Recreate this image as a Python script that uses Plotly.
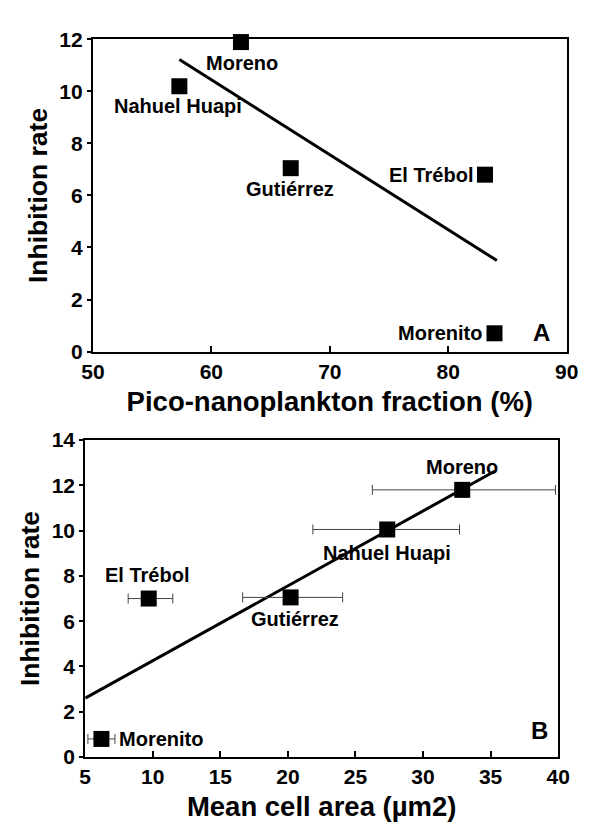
import plotly.graph_objects as go

# Panel A data
lakes_a = ["Moreno", "Nahuel Huapi", "Gutiérrez", "El Trébol", "Morenito"]
pico_frac = [62.5, 57.3, 66.7, 83.1, 83.9]
inhib_a = [11.9, 10.2, 7.05, 6.8, 0.7]
fit_a_x = [57.3, 84.1]
fit_a_y = [11.23, 3.5]
label_a_x = [62.6, 57.2, 66.6, 78.5, 79.3]
label_a_y = [11.1, 9.45, 6.25, 6.8, 0.7]

# Panel B data
lakes_b = ["Moreno", "Nahuel Huapi", "Gutiérrez", "El Trébol", "Morenito"]
cell_area = [32.9, 27.35, 20.2, 9.7, 6.2]
inhib_b = [11.8, 10.05, 7.05, 7.0, 0.8]
err_plus = [6.9, 5.35, 3.85, 1.78, 1.0]
err_minus = [6.65, 5.5, 3.55, 1.52, 1.0]
fit_b_x = [5, 35.3]
fit_b_y = [2.6, 12.62]
label_b_x = [32.9, 27.3, 20.5, 9.6, 10.6]
label_b_y = [12.8, 9.0, 6.1, 8.05, 0.8]

FONT = "Liberation Sans, Arial, sans-serif"
LBL = 20
fig = go.Figure()

# Panel A
fig.add_trace(go.Scatter(x=fit_a_x, y=fit_a_y, mode="lines",
                         line=dict(color="black", width=3),
                         xaxis="x", yaxis="y", showlegend=False))
fig.add_trace(go.Scatter(x=pico_frac, y=inhib_a, mode="markers",
                         marker=dict(symbol="square", size=16, color="black"),
                         cliponaxis=False, xaxis="x", yaxis="y", showlegend=False))

# Panel B
fig.add_trace(go.Scatter(x=fit_b_x, y=fit_b_y, mode="lines",
                         line=dict(color="black", width=3),
                         xaxis="x2", yaxis="y2", showlegend=False))
fig.add_trace(go.Scatter(x=cell_area, y=inhib_b, mode="markers",
                         marker=dict(symbol="square", size=16, color="black"),
                         error_x=dict(type="data", array=err_plus, arrayminus=err_minus,
                                      color="#444", thickness=1, width=5),
                         cliponaxis=False, xaxis="x2", yaxis="y2", showlegend=False))

annotations = []
for name, x, y in zip(lakes_a, label_a_x, label_a_y):
    annotations.append(dict(x=x, y=y, xref="x", yref="y", text=name,
                            showarrow=False,
                            font=dict(size=LBL, color="black", family=FONT, weight="bold")))
annotations.append(dict(x=87.9, y=0.75, xref="x", yref="y", text="A",
                        showarrow=False,
                        font=dict(size=24, color="black", family=FONT, weight="bold")))
for name, x, y in zip(lakes_b, label_b_x, label_b_y):
    annotations.append(dict(x=x, y=y, xref="x2", yref="y2", text=name,
                            showarrow=False,
                            font=dict(size=LBL, color="black", family=FONT, weight="bold")))
annotations.append(dict(x=38.6, y=1.15, xref="x2", yref="y2", text="B",
                        showarrow=False,
                        font=dict(size=24, color="black", family=FONT, weight="bold")))

tickfont = dict(size=21, color="black", family=FONT, weight="bold")
xtitle_font = dict(size=27.5, color="black", family=FONT, weight="bold")
ytitle_font = dict(size=26.5, color="black", family=FONT, weight="bold")
axis_common = dict(showline=True, linecolor="black", linewidth=2, mirror=True,
                   showgrid=False, zeroline=False, tickfont=tickfont,
                   tickwidth=1.5, tickcolor="black")

fig.update_layout(
    width=589, height=830,
    margin=dict(l=0, r=0, t=0, b=0),
    paper_bgcolor="white", plot_bgcolor="white",
    font=dict(family=FONT, color="black"),
    xaxis=dict(domain=[0.129, 0.9677], range=[50, 90], tickvals=[50, 60, 70, 80, 90],
               ticks="inside", ticklen=6, anchor="y",
               title=dict(text="Pico-nanoplankton fraction (%)", font=xtitle_font, standoff=10),
               **axis_common),
    yaxis=dict(domain=[0.5892, 0.9759], range=[0, 12], tickvals=[0, 2, 4, 6, 8, 10, 12],
               ticks="outside", ticklen=4, anchor="x",
               title=dict(text="Inhibition rate", font=ytitle_font, standoff=4),
               **axis_common),
    xaxis2=dict(domain=[0.1154, 0.9525], range=[5, 40], tickvals=[5, 10, 15, 20, 25, 30, 35, 40],
                ticks="inside", ticklen=6, anchor="y2",
                title=dict(text="Mean cell area (µm2)", font=xtitle_font, standoff=10),
                **axis_common),
    yaxis2=dict(domain=[0.0867, 0.4795], range=[0, 14], tickvals=[0, 2, 4, 6, 8, 10, 12, 14],
                ticks="outside", ticklen=4, anchor="x2",
                title=dict(text="Inhibition rate", font=ytitle_font, standoff=4),
                **axis_common),
    annotations=annotations,
)

fig.write_html("out.html")
